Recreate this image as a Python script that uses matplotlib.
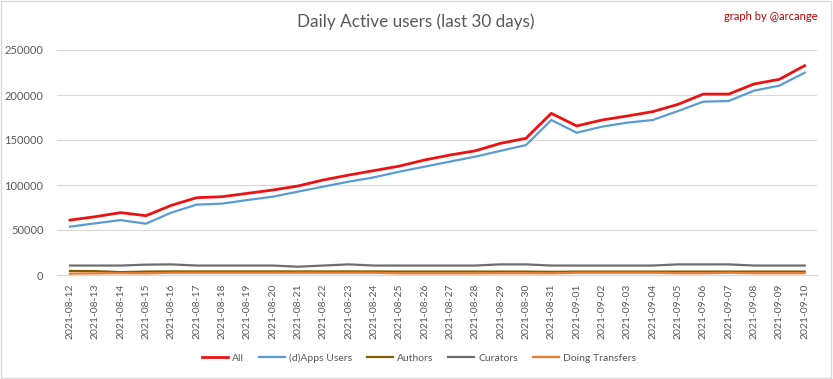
import numpy as np
import pandas as pd
import matplotlib
matplotlib.use("Agg")
import matplotlib.pyplot as plt

# %% data
dates = pd.date_range("2021-08-12", "2021-09-10").strftime("%Y-%m-%d").tolist()
all_users = [61000, 64800, 69300, 65900, 77400, 85900, 87000, 90700, 94400, 98900,
             105600, 111000, 116000, 121000, 127800, 133300, 138000, 146300, 151900, 179600,
             165600, 172200, 176700, 181500, 189600, 201000, 201000, 212200, 217400, 232600]
apps_users = [53700, 57400, 61000, 57000, 69300, 78200, 79300, 83300, 87000, 92600,
              98200, 103700, 108500, 114800, 120400, 126000, 131500, 138000, 144400, 172200,
              158100, 164800, 169300, 172200, 182200, 192600, 193300, 204800, 210400, 224800]
authors = [4500, 4300, 3200, 3800, 4000, 4000, 4000, 4000, 4000, 4000,
           4000, 4000, 4000, 3800, 3800, 3800, 3800, 3800, 3800, 3500,
           3800, 3800, 3800, 3800, 3800, 3800, 3800, 3800, 3800, 3800]
curators = [10500, 10500, 10500, 11500, 11800, 10500, 10500, 10500, 10500, 9200,
            10500, 11800, 10500, 10500, 10500, 10500, 10500, 11800, 11800, 10500,
            10500, 10500, 10500, 10500, 11800, 11800, 11800, 10500, 10500, 10500]
transfers = [1500, 1800, 2000, 1800, 2500, 2500, 2500, 2500, 2500, 2500,
             2500, 2500, 2500, 1800, 1800, 1800, 1800, 2000, 2000, 1800,
             2500, 2500, 2500, 2500, 2000, 2000, 2500, 2000, 2000, 2000]

series = [
    ("All", all_users, "#EE1111", 2.0),
    ("(d)Apps Users", apps_users, "#5B9BD5", 1.6),
    ("Authors", authors, "#7F6000", 1.6),
    ("Curators", curators, "#6E6E6E", 1.6),
    ("Doing Transfers", transfers, "#ED7D31", 1.6),
]

# %% plot
plt.rcParams["font.family"] = ["Lato", "DejaVu Sans"]
fig = plt.figure(figsize=(8.33, 3.79), dpi=100)
ax = fig.add_axes([57.3 / 833, 1 - 275 / 379, 760 / 833, 225 / 379])

x = np.arange(len(dates))
for name, vals, color, lw in series:
    ax.plot(x, vals, color=color, lw=lw, label=name, solid_joinstyle="round")

ax.set_xlim(-0.5, len(dates) - 0.5)
ax.set_ylim(0, 250000)
ax.set_yticks(np.arange(0, 250001, 50000))
ax.set_xticks(x)
ax.set_xticklabels(dates, rotation=90, fontsize=7.5, color="#595959")
ax.tick_params(axis="y", labelsize=8, labelcolor="#595959", length=0, pad=10)
ax.tick_params(axis="x", length=0, pad=6)
ax.grid(axis="y", color="#D9D9D9", lw=0.8)
ax.set_axisbelow(True)
for s in ["top", "right", "left"]:
    ax.spines[s].set_visible(False)
ax.spines["bottom"].set_color("#D9D9D9")

# title and credit
fig.text(416 / 833, 1 - 22 / 379, "Daily Active users (last 30 days)", ha="center", va="center",
         fontsize=12.3, color="#595959")
fig.text(818 / 833, 1 - 16 / 379, "graph by @arcange", ha="right", va="center",
         fontsize=8, color="#C00000")

# legend
fig.legend(loc="center", bbox_to_anchor=(419 / 833, 1 - 358 / 379), ncol=5, frameon=False,
           fontsize=7.5, handlelength=2.5, handletextpad=0.4, columnspacing=1.4,
           labelcolor="#595959")

# border
fig.patches.append(plt.Rectangle((0.001, 0.002), 0.997, 0.995, transform=fig.transFigure,
                                 fill=False, edgecolor="#D9D9D9", lw=1))

plt.savefig("out.png", dpi=100)
